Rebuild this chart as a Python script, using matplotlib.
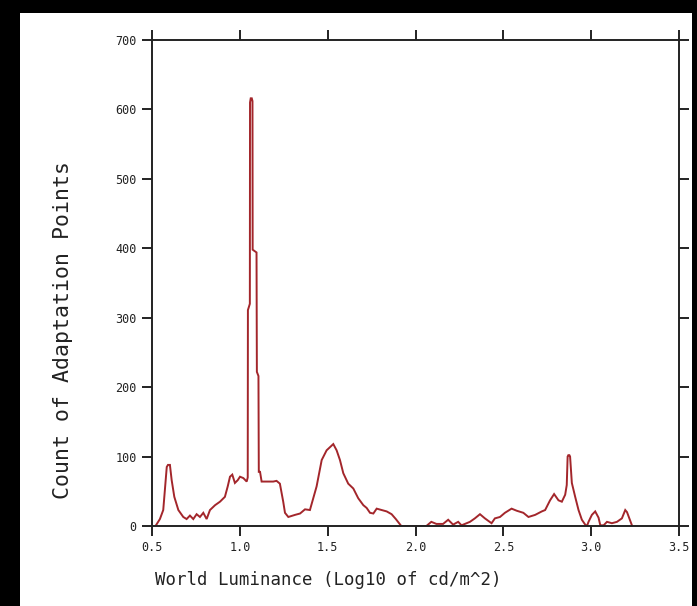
import matplotlib
matplotlib.use("Agg")
import matplotlib.pyplot as plt
from matplotlib.patches import Rectangle

# Histogram trace: log10 world luminance vs. count of adaptation points
log_lum = [
    0.520, 0.545, 0.564, 0.584, 0.591, 0.602, 0.612, 0.627, 0.650, 0.678,
    0.697, 0.716, 0.735, 0.754, 0.773, 0.792, 0.811, 0.830, 0.859, 0.887,
    0.915, 0.931, 0.944, 0.957, 0.972, 0.988, 1.001, 1.020, 1.039, 1.045,
    1.046, 1.057, 1.058, 1.062, 1.068, 1.072, 1.073, 1.095, 1.097, 1.106,
    1.108, 1.115, 1.124, 1.190, 1.209, 1.228, 1.247, 1.257, 1.276, 1.314,
    1.343, 1.371, 1.399, 1.418, 1.437, 1.466, 1.494, 1.532, 1.551, 1.570,
    1.589, 1.617, 1.646, 1.674, 1.703, 1.722, 1.741, 1.760, 1.779, 1.807,
    1.836, 1.864, 1.888, 1.907, 1.919, 2.062, 2.090, 2.119, 2.157, 2.186,
    2.214, 2.243, 2.262, 2.290, 2.310, 2.338, 2.367, 2.395, 2.433, 2.452,
    2.481, 2.509, 2.547, 2.576, 2.614, 2.643, 2.681, 2.719, 2.738, 2.766,
    2.789, 2.814, 2.833, 2.852, 2.861, 2.866, 2.870, 2.876, 2.880, 2.890,
    2.909, 2.928, 2.947, 2.966, 2.976, 2.985, 3.004, 3.023, 3.042, 3.052,
    3.071, 3.090, 3.118, 3.147, 3.175, 3.194, 3.204, 3.217, 3.232,
]
counts = [
    0, 10, 23, 85, 88, 88, 66, 42, 23, 13,
    10, 15, 10, 17, 13, 19, 10, 23, 30, 35,
    42, 57, 71, 74, 62, 66, 71, 69, 64, 70,
    311, 320, 610, 616, 616, 612, 398, 394, 222, 216,
    78, 78, 64, 64, 65, 61, 35, 19, 13, 16,
    18, 24, 23, 40, 57, 95, 109, 118, 109, 95,
    76, 61, 54, 40, 30, 26, 19, 18, 25, 23,
    21, 17, 10, 4, 0, 0, 6, 3, 3, 9,
    2, 6, 1, 4, 6, 11, 17, 11, 4, 11,
    13, 19, 25, 22, 19, 13, 16, 21, 23, 37,
    46, 37, 35, 45, 59, 100, 102, 102, 100, 62,
    42, 23, 9, 2, 0, 6, 16, 21, 12, 1,
    1, 6, 4, 6, 11, 23, 20, 11, 1,
]

x_ticks = [0.5, 1.0, 1.5, 2.0, 2.5, 3.0, 3.5]
x_tick_labels = ["0.5", "1.0", "1.5", "2.0", "2.5", "3.0", "3.5"]
y_ticks = [0, 100, 200, 300, 400, 500, 600, 700]
y_tick_labels = ["0", "100", "200", "300", "400", "500", "600", "700"]

W, H = 697, 606
fig = plt.figure(figsize=(W / 100, H / 100), dpi=100, facecolor="black")

# white page inside the dark frame
fig.patches.append(Rectangle((20 / W, 0), (692 - 20) / W, (H - 13) / H,
                             transform=fig.transFigure, facecolor="white",
                             edgecolor="none", zorder=-10))

ax = fig.add_axes([152 / W, (H - 526) / H, (679 - 152) / W, (526 - 40) / H])
ax.set_zorder(5)
ax.set_facecolor("white")
ax.plot(log_lum, counts, color="#a3262b", lw=1.4, solid_joinstyle="miter")

ax.set_xlim(0.5, 3.5)
ax.set_ylim(0, 700)
ax.set_xticks(x_ticks)
ax.set_xticklabels(x_tick_labels)
ax.set_yticks(y_ticks)
ax.set_yticklabels(y_tick_labels)

mono = "DejaVu Sans Mono"
ax.tick_params(axis="both", which="major", direction="out", length=7,
               width=1.4, color="#222222", labelsize=8.5, pad=4,
               top=True, right=True, labeltop=False, labelright=False)
for lab in ax.get_xticklabels() + ax.get_yticklabels():
    lab.set_family(mono)
    lab.set_color("#222222")
for sp in ax.spines.values():
    sp.set_linewidth(1.4)
    sp.set_color("#222222")

fig.text(63 / W, (H - 330) / H, "Count of Adaptation Points", rotation=90,
         ha="center", va="center", family=mono, fontsize=15.5, color="#222222",
         zorder=6)
fig.text(328 / W, (H - 580) / H, "World Luminance (Log10 of cd/m^2)",
         ha="center", va="center", family=mono, fontsize=12.5, color="#222222",
         zorder=6)

fig.savefig("out.png", dpi=100, facecolor="black")
